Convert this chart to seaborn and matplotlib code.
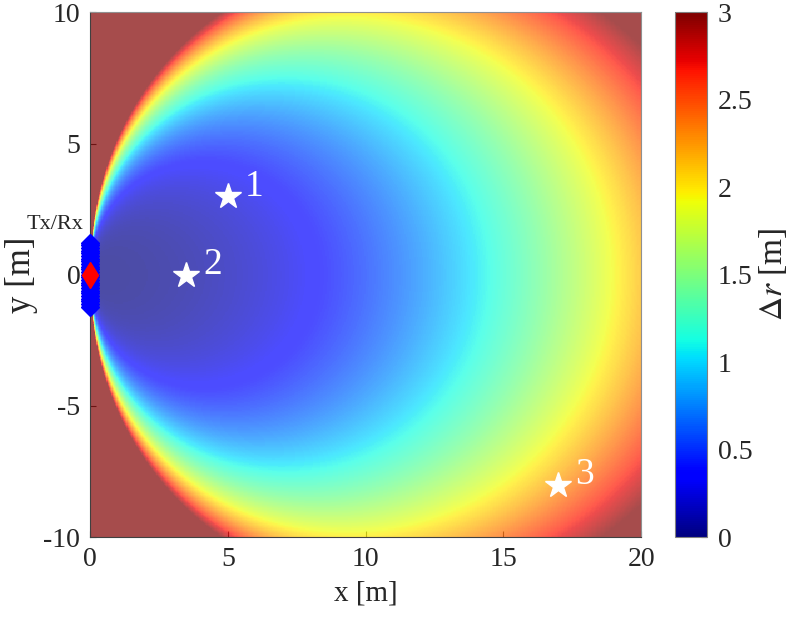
import numpy as np
import matplotlib
matplotlib.use("Agg")
import matplotlib.pyplot as plt
import seaborn as sns
from matplotlib.colors import Normalize
from matplotlib.cm import ScalarMappable

# axis ranges and ticks
x_lim = [0, 20]
y_lim = [-10, 10]
x_ticks = [0, 5, 10, 15, 20]
y_ticks = [-10, -5, 0, 5, 10]
cbar_ticks = [0, 0.5, 1, 1.5, 2, 2.5, 3]
cbar_ticklabels = ["0", "0.5", "1", "1.5", "2", "2.5", "3"]
dr_max = 3.0

# range resolution model: dr = k * r^2 / cos(theta)^p
k_res = 0.00536
p_res = 1.8

# Tx/Rx array extent along y, and the three targets
aperture_y = [-1.22, 1.22]
target_x = [5, 3.5, 17]
target_y = [3, 0, -8]
target_labels = ["1", "2", "3"]


def field(nx, ny):
    xs = x_lim[0] + (np.arange(nx) + 0.5) * (x_lim[1] - x_lim[0]) / nx
    ys = y_lim[1] - (np.arange(ny) + 0.5) * (y_lim[1] - y_lim[0]) / ny
    X, Y = np.meshgrid(xs, ys)
    r2 = X**2 + Y**2
    cos_t = X / np.sqrt(r2)
    dr = k_res * r2 / cos_t**p_res
    return np.clip(dr, 0, dr_max)


nx, ny = 440, 420


def ix(x):
    return (np.asarray(x) - x_lim[0]) / (x_lim[1] - x_lim[0]) * nx


def iy(y):
    return (y_lim[1] - np.asarray(y)) / (y_lim[1] - y_lim[0]) * ny


sns.set_theme(style="white")
plt.rcParams["font.family"] = ["Liberation Serif", "DejaVu Serif"]
plt.rcParams["mathtext.fontset"] = "stix"

fig = plt.figure(figsize=(7.93, 6.21), dpi=100)
ax = fig.add_axes([0.1135, 0.135, 0.695, 0.845])
cax = fig.add_axes([0.851, 0.135, 0.040, 0.845])

dr = field(nx, ny)
sns.heatmap(dr, ax=ax, cmap="jet", vmin=0, vmax=dr_max, cbar=False,
            alpha=0.7, xticklabels=False, yticklabels=False, rasterized=True)

for side, s in ax.spines.items():
    s.set_visible(True)
    s.set_linewidth(0.8)
    s.set_color("#404040" if side in ("left", "bottom") else "#909090")

ax.set_xticks(ix(x_ticks))
ax.set_xticklabels([str(t) for t in x_ticks], fontsize=20)
ax.set_yticks(iy(y_ticks))
ax.set_yticklabels([str(t) for t in y_ticks], fontsize=20, rotation=0)
ax.tick_params(direction="in", length=4, width=0.8, color="#404040",
               bottom=True, left=True, pad=7)
ax.set_xlabel("x [m]", fontsize=21, labelpad=6)
ax.set_ylabel("y [m]", fontsize=25, labelpad=4)

# Tx/Rx array
ap = np.linspace(aperture_y[0], aperture_y[1], 25)
ax.plot(ix(np.zeros_like(ap)), iy(ap), ls="none", marker="D", ms=9,
        color="blue", mec="blue", clip_on=False, zorder=5)
ax.plot(ix(0), iy(0), ls="none", marker="d", ms=13, color="red",
        mec="red", clip_on=False, zorder=6)
ax.text(ix(-0.25), iy(1.9), "Tx/Rx", fontsize=16, ha="right", va="center",
        clip_on=False)

# targets
ax.plot(ix(target_x), iy(target_y), ls="none", marker="*", ms=19,
        color="white", mec="white", zorder=7)
for tx, ty, lab in zip(target_x, target_y, target_labels):
    ax.annotate(lab, (ix(tx), iy(ty)), xytext=(12, 7),
                textcoords="offset points", color="white", fontsize=27,
                ha="left", va="center", zorder=8)

# colorbar
sm = ScalarMappable(norm=Normalize(0, dr_max), cmap="jet")
cb = fig.colorbar(sm, cax=cax)
cb.set_ticks(cbar_ticks)
cb.set_ticklabels(cbar_ticklabels)
cb.ax.tick_params(direction="in", length=4, width=0.8, color="#404040",
                  labelsize=20, pad=8)
cb.outline.set_edgecolor("#808080")
cb.outline.set_linewidth(0.8)
cb.set_label(r"$\Delta r$ [m]", fontsize=24, labelpad=3)

fig.savefig("out.png", dpi=100)
